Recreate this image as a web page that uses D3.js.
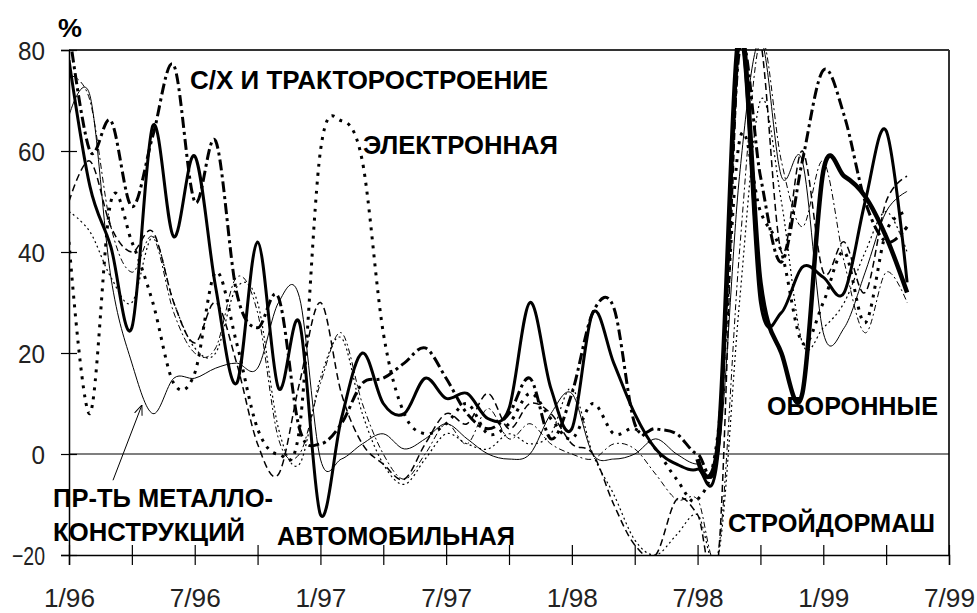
<!DOCTYPE html>
<html>
<head>
<meta charset="utf-8">
<script src="https://cdn.jsdelivr.net/npm/d3@7"></script>
<style>
body{margin:0;background:#fff;}
text{font-family:Arial,"Liberation Sans",sans-serif;}
</style>
</head>
<body>
<div class="chart"></div>
<script>
// one value per month, index 0 = 1/96 ... index 40 = 5/99
var xLabels=["1/96","7/96","1/97","7/97","1/98","7/98","1/99","7/99"];
var yTicks=[-20,0,20,40,60,80];

var metall=[67,71,35,18,8,15,15,17,18,17,30,31,-1,-1,2,4,1,3,6,3,0,-1,0,8,12,0,-1,0,3,0,-2,0,55,82,55,58,24,25,36,48,52];
var avto=[78,53,41,25,65,43,59,33,14,42,13,26,-12,7,20,10,8,15,11,12,7,9,30,13,5,28,18,8,1,-2,-3,1,82,30,28,37,35,32,50,64,34];
var oboron=[null,null,null,null,null,null,null,null,null,null,null,null,null,null,null,null,null,null,null,null,null,null,null,null,null,null,null,null,null,null,-1,3,84,34,20,12,56,55,51,43,32];
var selhoz=[84,60,66,49,63,77,50,62,32,25,31,5,2,6,14,15,18,21,15,8,5,8,15,3,12,28,29,6,5,4,0,2,80,55,38,58,76,67,50,42,45];
var elektr=[42,8,50,42,30,14,16,36,22,5,0,5,60,66,58,24,8,4,6,10,4,6,12,7,3,10,4,5,1,-5,-9,5,62,48,40,22,30,40,26,44,48];
var stroy=[50,58,45,40,44,30,22,30,18,2,-4,14,30,12,2,-2,-5,2,8,6,12,5,10,8,2,0,-10,-18,-20,-9,-12,-20,82,82,40,60,36,42,32,50,55];
var line7=[48,44,35,30,43,30,21,20,33,30,5,-2,15,23,8,-2,-6,-1,4,2,1,4,2,4,13,0,-8,-17,-20,-16,-12,-20,30,70,50,22,25,30,40,48,40];
var line8=[75,70,45,36,43,28,20,21,35,28,3,0,14,24,10,0,-5,0,6,2,9,3,6,2,0,-1,2,1,-4,-9,-9,-19,40,82,58,45,58,38,24,36,30];

var margin={top:50, left:69, bottom:58, right:28};
var width=977-margin.left-margin.right;
var height=613-margin.top-margin.bottom;

var svg=d3.select(".chart").append("svg").attr("width",977).attr("height",613);
var g=svg.append("g").attr("transform","translate("+margin.left+","+margin.top+")");

var x=d3.scaleLinear().domain([0,42]).range([0,width]);
var y=d3.scaleLinear().domain([-20,80]).range([height,0]);

g.append("clipPath").attr("id","plot").append("rect")
  .attr("x",0).attr("y",-2).attr("width",width).attr("height",height+2);

// frame: top and right
g.append("line").attr("x1",0).attr("x2",width).attr("y1",0).attr("y2",0)
  .attr("stroke","#333").attr("stroke-width",2);
g.append("line").attr("x1",width).attr("x2",width).attr("y1",0).attr("y2",height)
  .attr("stroke","#333").attr("stroke-width",2);
// zero line
g.append("line").attr("x1",0).attr("x2",width).attr("y1",y(0)).attr("y2",y(0))
  .attr("stroke","#000").attr("stroke-width",1.2);

// Y axis
var yAxis=g.append("g").call(d3.axisLeft(y).tickValues(yTicks).tickSize(8).tickFormat(d3.format("d")));
yAxis.select(".domain").attr("stroke","#000").attr("stroke-width",1.5);
yAxis.selectAll(".tick line").attr("x1",8).attr("stroke-width",1.2);
yAxis.selectAll("text").attr("x",-24).attr("dy","0.36em")
  .attr("font-size","26px").attr("fill","#222")
  .attr("textLength",function(d){ return d<0 ? 33 : String(d).length*13.5; })
  .attr("lengthAdjust","spacingAndGlyphs");

// X axis
var xAxis=g.append("g").attr("transform","translate(0,"+height+")")
  .call(d3.axisBottom(x).tickValues(d3.range(0,43,3)).tickSize(10)
    .tickFormat(function(d){ return d%6===0 ? xLabels[d/6] : ""; }));
xAxis.select(".domain").attr("stroke","#000").attr("stroke-width",1.5);
xAxis.selectAll(".tick line").attr("y1",-10).attr("stroke-width",1.2);
xAxis.selectAll("text").attr("y",52).attr("dy",0)
  .attr("font-size","26px").attr("fill","#222")
  .filter(function(d){ return d%6===0; })
  .attr("textLength",51).attr("lengthAdjust","spacingAndGlyphs");

var series=[
  {values:metall, w:1,   dash:null},
  {values:line8,  w:1,   dash:"6,3,2,3"},
  {values:line7,  w:1.2, dash:"2,3"},
  {values:stroy,  w:1.5, dash:"7,4"},
  {values:elektr, w:3,   dash:"3,6"},
  {values:selhoz, w:3,   dash:"11,4,3,4"},
  {values:avto,   w:3,   dash:null},
  {values:oboron, w:4.5, dash:null}
];

var line=d3.line()
  .defined(function(d){ return d!=null; })
  .x(function(d,i){ return x(i); })
  .y(function(d){ return y(d); })
  .curve(d3.curveCardinal.tension(0));

var lines=g.append("g").attr("clip-path","url(#plot)");
series.forEach(function(s){
  lines.append("path").attr("d",line(s.values))
    .attr("fill","none").attr("stroke","#000")
    .attr("stroke-width",s.w)
    .attr("stroke-dasharray",s.dash)
    .attr("stroke-linejoin","round");
});

// arrow to metal structures line
svg.append("defs").append("marker").attr("id","arr")
  .attr("viewBox","0 0 10 10").attr("refX",10).attr("refY",5)
  .attr("markerWidth",10).attr("markerHeight",10).attr("orient","auto")
  .append("path").attr("d","M0,1 L10,5 L0,9").attr("fill","none").attr("stroke","#000").attr("stroke-width",1);
g.append("line").attr("x1",x(2.1)).attr("y1",y(-5.2)).attr("x2",x(3.48)).attr("y2",y(9.7))
  .attr("stroke","#000").attr("stroke-width",1).attr("marker-end","url(#arr)");

// labels
var labels=[
  {t:"%", m:-0.53, v:82.6, w:24},
  {t:"С/Х И ТРАКТОРОСТРОЕНИЕ", m:5.78, v:72.3, w:358},
  {t:"ЭЛЕКТРОННАЯ", m:14.03, v:59.4, w:195},
  {t:"ОБОРОННЫЕ", m:33.31, v:7.7, w:171},
  {t:"СТРОЙДОРМАШ", m:31.45, v:-15.4, w:207},
  {t:"ПР-ТЬ МЕТАЛЛО-", m:-0.76, v:-10.5, w:220},
  {t:"КОНСТРУКЦИЙ", m:-0.76, v:-17.2, w:192},
  {t:"АВТОМОБИЛЬНАЯ", m:9.93, v:-18.0, w:238}
];
g.selectAll(".lbl").data(labels).enter().append("text")
  .attr("x",function(d){ return x(d.m); })
  .attr("y",function(d){ return y(d.v); })
  .attr("textLength",function(d){ return d.w; })
  .attr("lengthAdjust","spacingAndGlyphs")
  .attr("font-size","25px").attr("font-weight","bold").attr("fill","#000")
  .text(function(d){ return d.t; });
</script>
</body>
</html>
